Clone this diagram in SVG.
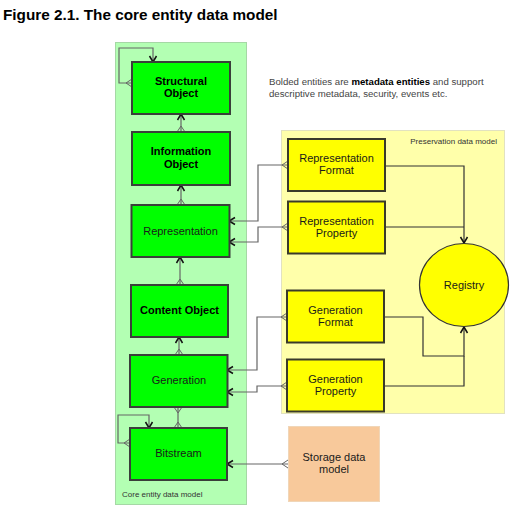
<svg xmlns="http://www.w3.org/2000/svg" width="515" height="516" viewBox="0 0 515 516">
  <defs>
    <marker id="arrow" markerUnits="userSpaceOnUse" markerWidth="12" markerHeight="12" viewBox="-8 -6 10 12" refX="0" refY="0" orient="auto" overflow="visible">
      <polyline points="-6,-3.5 0,0 -6,3.5" fill="none" stroke="#111" stroke-width="1.5"/>
    </marker>
    <marker id="crowStart" markerUnits="userSpaceOnUse" markerWidth="12" markerHeight="12" viewBox="-2 -6 10 12" refX="0" refY="0" orient="auto" overflow="visible">
      <path d="M0,-4 L6,0 L0,4" fill="none" stroke="#666" stroke-width="1"/>
    </marker>
    <marker id="crowEnd" markerUnits="userSpaceOnUse" markerWidth="12" markerHeight="12" viewBox="-8 -6 10 12" refX="0" refY="0" orient="auto" overflow="visible">
      <path d="M0,-4 L-6,0 L0,4" fill="none" stroke="#666" stroke-width="1"/>
    </marker>
  </defs>
  <style>
    text { font-family: "Liberation Sans", Arial, sans-serif; }
    .core { fill: #00ff00; stroke: #3a3f3a; stroke-width: 2; }
    .pres { fill: #ffff00; stroke: #3a3a2a; stroke-width: 2; }
    .lbl { font-size: 11px; fill: #1a1a1a; text-anchor: middle; }
    .bold { font-weight: bold; fill: #000; }
    .small { font-size: 8px; fill: #333; }
    .conn { fill: none; stroke: #666; stroke-width: 1.2; }
    .connd { fill: none; stroke: #333; stroke-width: 1.2; }
  </style>
  <rect width="515" height="516" fill="#ffffff"/>

  <text x="3" y="20" font-size="15.3" font-weight="bold" fill="#000">Figure 2.1. The core entity data model</text>

  <text x="269" y="85" font-size="9.65" fill="#444">Bolded entities are <tspan font-weight="bold" fill="#000">metadata entities</tspan> and support</text>
  <text x="269" y="97" font-size="9.65" fill="#444">descriptive metadata, security, events etc.</text>

  <g id="core-entity-data-model">
    <rect x="115.5" y="42.5" width="131" height="462" fill="#b3ffb3" stroke="#a5d8a5" stroke-width="1"/>
    <text x="122" y="497" class="small">Core entity data model</text>
  </g>

  <g id="preservation-data-model">
    <rect x="281.5" y="130.5" width="223" height="283" fill="#ffffaa" stroke="#e2e2c0" stroke-width="1"/>
    <text x="497" y="143.5" class="small" text-anchor="end">Preservation data model</text>
  </g>

  <g id="connectors">
    <path class="conn" d="M132,83 H119 V48 H153 V62" marker-start="url(#crowStart)" marker-end="url(#arrow)"/>
    <path class="conn" d="M181,132 V114" marker-start="url(#crowStart)" marker-end="url(#arrow)"/>
    <path class="conn" d="M181,205 V185" marker-start="url(#crowStart)" marker-end="url(#arrow)"/>
    <path class="conn" d="M180,285 V257" marker-start="url(#crowStart)" marker-end="url(#arrow)"/>
    <path class="conn" d="M179,355 V337" marker-start="url(#crowStart)" marker-end="url(#arrow)"/>
    <path class="conn" d="M178,407 V428" marker-start="url(#crowStart)" marker-end="url(#crowEnd)"/>
    <path class="conn" d="M130,443 H118 V415 H149 V428" marker-start="url(#crowStart)" marker-end="url(#arrow)"/>
    <path class="conn" d="M288,464 H227" marker-start="url(#crowStart)" marker-end="url(#arrow)"/>
    <path class="conn" d="M288,165 H258 V221 H229" marker-start="url(#crowStart)" marker-end="url(#arrow)"/>
    <path class="conn" d="M288,227 H258 V242 H229" marker-start="url(#crowStart)" marker-end="url(#arrow)"/>
    <path class="conn" d="M287,317 H257 V370 H227" marker-start="url(#crowStart)" marker-end="url(#arrow)"/>
    <path class="conn" d="M287,386 H257 V392 H227" marker-start="url(#crowStart)" marker-end="url(#arrow)"/>
    <path class="connd" d="M385,166 H464 V243" marker-end="url(#arrow)"/>
    <path class="connd" d="M385,227 H464"/>
    <path class="connd" d="M384,317 H423 V356 H464 V327" marker-end="url(#arrow)"/>
    <path class="connd" d="M384,386 H464 V356"/>
  </g>

  <g id="structural-object">
    <rect class="core" x="132" y="62" width="98" height="52"/>
    <text class="lbl bold" x="181" y="84.5">Structural</text>
    <text class="lbl bold" x="181" y="97">Object</text>
  </g>
  <g id="information-object">
    <rect class="core" x="132" y="132" width="98" height="53"/>
    <text class="lbl bold" x="181" y="155">Information</text>
    <text class="lbl bold" x="181" y="167.5">Object</text>
  </g>
  <g id="representation">
    <rect class="core" x="131.5" y="205" width="98" height="52"/>
    <text class="lbl" x="180.5" y="234.5">Representation</text>
  </g>
  <g id="content-object">
    <rect class="core" x="131" y="285" width="97" height="52"/>
    <text class="lbl bold" x="179.5" y="313.5">Content Object</text>
  </g>
  <g id="generation">
    <rect class="core" x="130" y="355" width="97.5" height="52"/>
    <text class="lbl" x="179" y="384">Generation</text>
  </g>
  <g id="bitstream">
    <rect class="core" x="130" y="428" width="97" height="52"/>
    <text class="lbl" x="178.5" y="457">Bitstream</text>
  </g>

  <g id="representation-format">
    <rect class="pres" x="288" y="139" width="97" height="52"/>
    <text class="lbl" x="336.5" y="162">Representation</text>
    <text class="lbl" x="336.5" y="174">Format</text>
  </g>
  <g id="representation-property">
    <rect class="pres" x="288" y="201.5" width="97" height="52"/>
    <text class="lbl" x="336.5" y="224.5">Representation</text>
    <text class="lbl" x="336.5" y="236.5">Property</text>
  </g>
  <g id="generation-format">
    <rect class="pres" x="287" y="290.5" width="97" height="52"/>
    <text class="lbl" x="335.5" y="313.5">Generation</text>
    <text class="lbl" x="335.5" y="325.5">Format</text>
  </g>
  <g id="generation-property">
    <rect class="pres" x="287" y="359.5" width="97" height="52"/>
    <text class="lbl" x="335.5" y="382.5">Generation</text>
    <text class="lbl" x="335.5" y="394.5">Property</text>
  </g>

  <g id="registry">
    <ellipse cx="464" cy="285" rx="44.5" ry="41.5" fill="#ffff00" stroke="#333" stroke-width="1.2"/>
    <text class="lbl" x="464" y="289" font-size="10">Registry</text>
  </g>

  <g id="storage-data-model">
    <rect x="288.5" y="426.5" width="91" height="75" fill="#f8c99b" stroke="#f0d6b8" stroke-width="1"/>
    <text class="lbl" x="334" y="461">Storage data</text>
    <text class="lbl" x="334" y="473">model</text>
  </g>
</svg>
